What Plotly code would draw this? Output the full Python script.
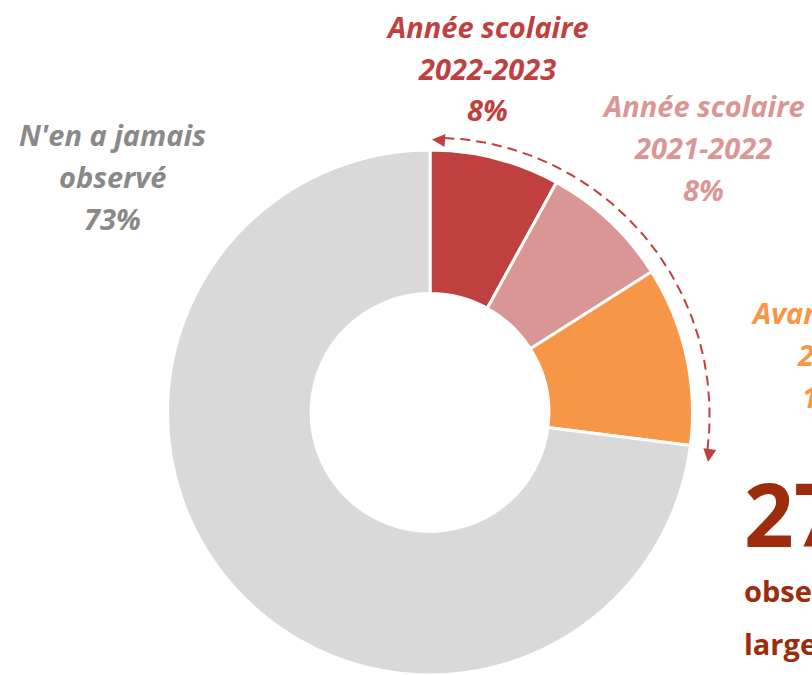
import numpy as np
import plotly.graph_objects as go

# ---- data ----
categories = ["Année scolaire 2022-2023", "Année scolaire 2021-2022", "Avant 2021", "N'en a jamais observé"]
values = [8, 8, 11, 73]
slice_colors = ["#C0403F", "#DA9694", "#F79646", "#D9D9D9"]
total_observed = 27

W, H = 812, 675
cx, cy, R = 430, 412.5, 262.5

fig = go.Figure()

fig.add_trace(go.Pie(
    labels=categories, values=values, sort=False, direction="clockwise", rotation=0,
    hole=0.453, marker=dict(colors=slice_colors, line=dict(color="white", width=3)),
    textinfo="none", hoverinfo="skip", showlegend=False,
    domain=dict(x=[(cx - R) / W, (cx + R) / W], y=[0, (2 * R) / H]),
))

# dashed arc around the observed share
frac = sum(values[:3]) / sum(values)
th = np.radians(np.linspace(3, frac * 360 + 0.5, 120))
rr = np.linspace(275, 280, th.size)
fig.add_trace(go.Scatter(
    x=cx + rr * np.sin(th), y=cy - rr * np.cos(th), mode="lines",
    line=dict(color="#C0403F", width=2, dash="10px,6px"), hoverinfo="skip", showlegend=False,
))

fig.update_xaxes(range=[0, W], visible=False, fixedrange=True)
fig.update_yaxes(range=[H, 0], visible=False, fixedrange=True)

FONT = "Open Sans"
def line(text, x, y, color, size=29, italic=True, bold=True, anchor="center"):
    t = text
    if bold:
        t = "<b>" + t + "</b>"
    if italic:
        t = "<i>" + t + "</i>"
    fig.add_annotation(x=x, y=y, xref="x", yref="y", text=t, showarrow=False,
                       xanchor=anchor, yanchor="middle",
                       font=dict(family=FONT, size=size, color=color))

# label 2022-2023
line("Année scolaire", 487, 26, "#C0403F")
line("2022-2023", 487, 68, "#C0403F")
line(f"{values[0]}%", 487, 109, "#C0403F")
# label 2021-2022
line("Année scolaire", 703, 105, "#DA9694")
line("2021-2022", 703, 147, "#DA9694")
line(f"{values[1]}%", 703, 189, "#DA9694")
# label never observed
line("N'en a jamais", 112, 134, "#898989")
line("observé", 112, 176, "#898989")
line(f"{values[3]}%", 112, 218, "#898989")
# label before 2021
line("Avant sept.", 749, 312, "#F79646", anchor="left")
line("2021", 795, 354, "#F79646", anchor="left")
line(f"{values[2]}%", 800, 396, "#F79646", anchor="left")
# total
line(f"{total_observed}%", 742, 513, "#9C2C0C", size=87, italic=False, anchor="left")
line("observé en", 742, 590, "#9C2C0C", size=29, italic=False, anchor="left")
line("large majorité", 742, 643, "#9C2C0C", size=29, italic=False, anchor="left")

# arrow heads
for tip, tail in [((432, 139.5), (446, 140.5)), ((708, 462), (710, 448))]:
    fig.add_annotation(x=tip[0], y=tip[1], ax=tail[0], ay=tail[1], xref="x", yref="y",
                       axref="x", ayref="y", text="", showarrow=True, arrowhead=2,
                       arrowsize=1.3, arrowwidth=2, arrowcolor="#C0403F")

fig.update_layout(width=W, height=H, margin=dict(l=0, r=0, t=0, b=0),
                  paper_bgcolor="white", plot_bgcolor="white")

fig.write_html("out.html", config={"displayModeBar": False},
               post_script="document.body.style.margin='0px';")
